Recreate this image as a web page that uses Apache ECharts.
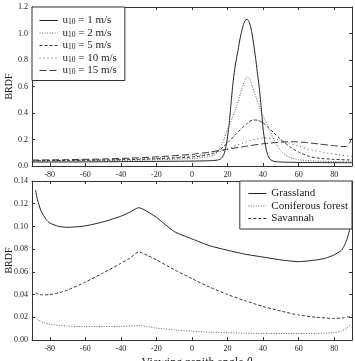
<!DOCTYPE html>
<html>
<head>
<meta charset="utf-8">
<script src="https://cdn.jsdelivr.net/npm/echarts@6/dist/echarts.min.js"></script>
<style>
  html, body { margin: 0; padding: 0; background: #fff; }
  #chart { width: 355px; height: 361px; }
</style>
</head>
<body>
<div id="chart"></div>
<script>
//////////////////////////////////////////////////////////////////
// [ Data ]  [angle, BRDF]

// top panel: water surface, wind speed u10
const windSpeeds = ['1', '2', '5', '10', '15'];

const u1 = [[-90,0.03],[-80,0.03],[-60,0.031],[-40,0.033],[-20,0.035],[0,0.037],[8,0.039],[12,0.041],[14,0.044],
  [16,0.052],[17,0.065],[18,0.09],[19,0.14],[20,0.22],[21,0.33],[22,0.48],[23,0.62],[24,0.73],[25,0.81],[26,0.88],
  [27,0.96],[28,1.02],[29,1.07],[30,1.1],[31,1.107],[32,1.09],[33,1.05],[34,0.98],[35,0.89],[36,0.79],[37,0.68],
  [38,0.57],[39,0.43],[40,0.28],[41,0.18],[42,0.11],[43,0.07],[44,0.05],[46,0.035],[50,0.03],[60,0.027],
  [70,0.026],[80,0.025],[90,0.025]];

const u2 = [[-90,0.035],[-70,0.037],[-50,0.04],[-30,0.044],[-15,0.049],[0,0.056],[5,0.062],[10,0.072],[12,0.08],
  [14,0.1],[16,0.14],[18,0.2],[20,0.28],[22,0.34],[24,0.41],[26,0.49],[28,0.58],[29.5,0.64],[31,0.674],
  [32.5,0.655],[34,0.6],[36,0.52],[38,0.44],[40,0.38],[42,0.32],[44,0.26],[46,0.2],[48,0.15],[51,0.1],
  [55,0.065],[60,0.047],[70,0.037],[80,0.033],[90,0.032]];

const u5 = [[-90,0.04],[-70,0.042],[-50,0.045],[-30,0.05],[-15,0.057],[0,0.068],[5,0.075],[9,0.085],[12,0.095],
  [15,0.115],[18,0.15],[20,0.175],[24,0.23],[28,0.285],[31,0.32],[34,0.347],[37,0.345],[40,0.325],[43,0.29],
  [46,0.25],[50,0.2],[55,0.145],[60,0.105],[66,0.072],[72,0.058],[80,0.05],[90,0.045]];

const u10 = [[-90,0.04],[-70,0.043],[-50,0.047],[-30,0.054],[-15,0.062],[0,0.075],[10,0.092],[16,0.11],[23,0.145],
  [30,0.18],[36,0.203],[41,0.212],[46,0.205],[52,0.185],[60,0.15],[66,0.125],[74,0.102],[82,0.086],[88,0.074],
  [90,0.073]];

const u15 = [[-90,0.045],[-70,0.048],[-50,0.053],[-30,0.062],[-15,0.073],[0,0.088],[10,0.105],[20,0.127],[30,0.148],
  [40,0.168],[50,0.18],[58,0.183],[65,0.176],[72,0.165],[80,0.153],[85,0.147],[87,0.148],[88.5,0.17],
  [89.5,0.2],[90,0.21]];

// bottom panel: land covers
const landNames = ['Grassland', 'Coniferous forest', 'Savannah'];

const grassland = [[-88,0.132],[-87,0.124],[-85,0.114],[-82,0.106],[-80,0.103],[-75,0.1],[-70,0.0992],[-60,0.1005],
  [-50,0.104],[-40,0.109],[-35,0.1125],[-30,0.1165],[-27,0.1148],[-20,0.108],[-10,0.0955],[0,0.089],[10,0.083],
  [20,0.079],[30,0.0755],[40,0.073],[50,0.0705],[60,0.069],[70,0.0705],[75,0.072],[80,0.075],[84,0.079],
  [86,0.084],[88,0.093],[89,0.1],[90,0.115]];

const coniferous = [[-88,0.0195],[-86,0.017],[-83,0.015],[-80,0.0138],[-70,0.0123],[-60,0.0118],[-50,0.0118],
  [-40,0.012],[-30,0.0126],[-25,0.0118],[-20,0.0105],[-10,0.0089],[0,0.0078],[10,0.0069],[20,0.0064],[30,0.006],
  [40,0.0058],[50,0.0057],[60,0.0057],[70,0.0058],[80,0.0065],[84,0.0078],[87,0.0105],[89,0.0135]];

const savannah = [[-88,0.0415],[-86,0.0402],[-84,0.0397],[-80,0.04],[-75,0.0415],[-70,0.044],[-60,0.051],
  [-50,0.059],[-40,0.0675],[-35,0.072],[-30,0.0775],[-25,0.0745],[-20,0.0705],[-10,0.062],[0,0.054],[10,0.0465],
  [20,0.04],[30,0.0345],[40,0.0295],[50,0.0255],[60,0.022],[70,0.02],[80,0.019],[85,0.0195],[88,0.0205],
  [90,0.0215]];

const xTicks = [-80, -60, -40, -20, 0, 20, 40, 60, 80];

//////////////////////////////////////////////////////////////////
// [ Chart ]

const FONT = '"Liberation Serif", "DejaVu Serif", serif';
const INK = '#333';

function xAxisCfg(gridIndex, position, showLabels, extra) {
  return Object.assign({
    type: 'value', gridIndex: gridIndex, position: position,
    min: -90, max: 90,
    axisLine: { onZero: false, lineStyle: { color: INK, width: 1 } },
    axisTick: { inside: true, length: 3, customValues: xTicks, lineStyle: { color: INK } },
    axisLabel: { show: showLabels, customValues: xTicks, margin: 5, fontFamily: FONT, fontSize: 8, color: '#222' },
    splitLine: { show: false }
  }, extra || {});
}

function yAxisCfg(gridIndex, position, showLabels, max, interval, digits, extra) {
  return Object.assign({
    type: 'value', gridIndex: gridIndex, position: position,
    min: 0, max: max, interval: interval,
    axisLine: { show: true, onZero: false, lineStyle: { color: INK, width: 1 } },
    axisTick: { show: true, inside: true, length: 3, lineStyle: { color: INK } },
    axisLabel: { show: showLabels, margin: 4, fontFamily: FONT, fontSize: 8, color: '#222',
      formatter: v => v.toFixed(digits) },
    splitLine: { show: false }
  }, extra || {});
}

const yName = {
  name: 'BRDF', nameLocation: 'middle', nameGap: 18, nameMoveOverlap: false,
  nameTextStyle: { fontFamily: FONT, fontSize: 10, color: '#222' }
};

function lineSeries(name, data, dash, color, xi, yi) {
  return {
    name: name, type: 'line', data: data, xAxisIndex: xi, yAxisIndex: yi,
    symbol: 'none', smooth: 0.2,
    lineStyle: { color: color, width: 1, type: dash },
    itemStyle: { color: color }
  };
}

const legendText = {
  fontFamily: FONT, fontSize: 11, color: '#222',
  rich: {
    t: { fontFamily: FONT, fontSize: 11, color: '#222', lineHeight: 12 },
    sub: { fontFamily: FONT, fontSize: 7.5, color: '#222', lineHeight: 7, verticalAlign: 'bottom' }
  }
};

// hide the symbol ECharts puts in the middle of a line legend icon
const noSymbol = { color: 'rgba(0,0,0,0)', borderWidth: 0, opacity: 0 };

const windLabel = s => 'u10 = ' + s + ' m/s';
const windDash = ['solid', [1, 1.5], [3, 2], [1, 3], [7, 3]];
const windColor = ['#222', '#666', '#333', '#555', '#333'];
const windData = [u1, u2, u5, u10, u15];

const series = windSpeeds.map((s, i) => lineSeries(windLabel(s), windData[i], windDash[i], windColor[i], 0, 0));
series.push(lineSeries(landNames[0], grassland, 'solid', '#222', 2, 2));
series.push(lineSeries(landNames[1], coniferous, [1, 1.5], '#666', 2, 2));
series.push(lineSeries(landNames[2], savannah, [3, 2], '#333', 2, 2));

const chart = echarts.init(document.getElementById('chart'));

chart.setOption({
  animation: false,
  backgroundColor: '#fff',
  grid: [
    { left: 32, right: 3, top: 7, height: 159, containLabel: false, outerBoundsMode: 'none' },
    { left: 32, right: 3, top: 181, height: 159, containLabel: false, outerBoundsMode: 'none' }
  ],
  xAxis: [
    xAxisCfg(0, 'bottom', true),
    xAxisCfg(0, 'top', false),
    xAxisCfg(1, 'bottom', true, {
      name: 'Viewing zenith angle {i|θ}', nameLocation: 'middle', nameGap: 17, nameMoveOverlap: false,
      nameTextStyle: { fontFamily: FONT, fontSize: 12, color: '#222', padding: [0, 0, 0, 10],
        rich: { i: { fontFamily: FONT, fontSize: 12, fontStyle: 'italic', color: '#222' } } }
    }),
    xAxisCfg(1, 'top', false)
  ],
  yAxis: [
    yAxisCfg(0, 'left', true, 1.2, 0.2, 1, yName),
    yAxisCfg(0, 'right', false, 1.2, 0.2, 1),
    yAxisCfg(1, 'left', true, 0.14, 0.02, 2, yName),
    yAxisCfg(1, 'right', false, 0.14, 0.02, 2)
  ],
  legend: [
    {
      data: windSpeeds.map(windLabel),
      orient: 'vertical', left: 32, top: 7,
      padding: [8, 8, 4, 7], itemWidth: 18, itemHeight: 10, itemGap: 1,
      borderColor: INK, borderWidth: 1, borderRadius: 0, backgroundColor: '#fff',
      itemStyle: noSymbol, lineStyle: { width: 1 },
      textStyle: legendText,
      formatter: name => name.replace('u10', '{t|u}{sub|10}{t|') + '}'
    },
    {
      data: landNames,
      orient: 'vertical', right: 3, top: 181,
      padding: [7, 4, 5, 8], itemWidth: 18, itemHeight: 10, itemGap: 1.5,
      borderColor: INK, borderWidth: 1, borderRadius: 0, backgroundColor: '#fff',
      itemStyle: noSymbol, lineStyle: { width: 1 },
      textStyle: legendText
    }
  ],
  series: series
});

window.addEventListener('resize', () => chart.resize());
</script>
</body>
</html>
